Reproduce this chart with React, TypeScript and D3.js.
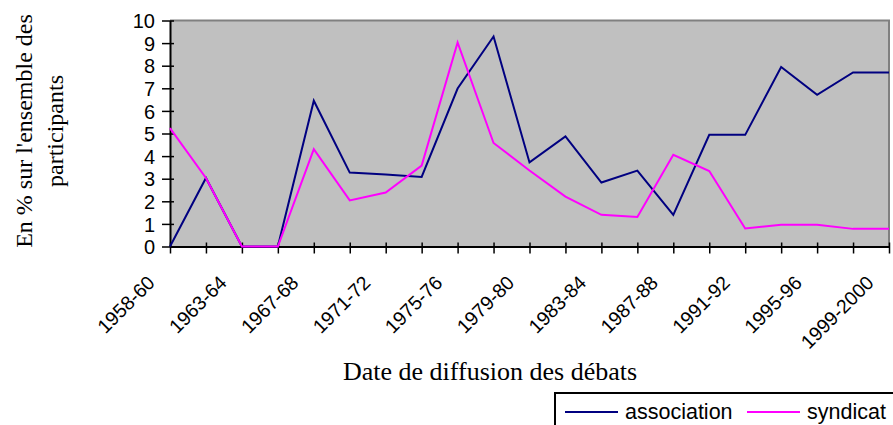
import React, { useEffect, useRef } from 'react';
import * as d3 from 'd3';

const periods = [
    '1958-60', '1961-62', '1963-64', '1965-66', '1967-68', '1969-70', '1971-72',
    '1973-74', '1975-76', '1977-78', '1979-80', '1981-82', '1983-84', '1985-86',
    '1987-88', '1989-90', '1991-92', '1993-94', '1995-96', '1997-98', '1999-2000'
];

// only every other period is labelled on the axis
const shownLabels = periods.filter((_, i) => i % 2 === 0);

const association = [
    0, 3.03, 0, 0, 6.45, 3.27, 3.19, 3.08, 6.99, 9.29, 3.72,
    4.87, 2.83, 3.36, 1.4, 4.94, 4.94, 7.94, 6.71, 7.7, 7.7
];

const syndicat = [
    5.24, 3.03, 0, 0, 4.31, 2.04, 2.39, 3.58, 9.03, 4.58, 3.36,
    2.21, 1.4, 1.31, 4.06, 3.34, 0.8, 0.96, 0.96, 0.78, 0.78
];

const yTicks = [0, 1, 2, 3, 4, 5, 6, 7, 8, 9, 10];

const seriesNames = ['association', 'syndicat'];
const seriesColors = ['#000080', '#FF00FF'];

const ParticipationChart: React.FC = () => {
    const chartRef = useRef<SVGSVGElement>(null);

    useEffect(() => {
        if (!chartRef.current) return;

        d3.select(chartRef.current).selectAll('*').remove();

        const width = 893;
        const height = 425;
        const plot = { left: 170, right: 889, top: 20.5, bottom: 246.5 };

        const svg = d3.select(chartRef.current)
            .attr('width', width)
            .attr('height', height)
            .attr('viewBox', `0 0 ${width} ${height}`);

        const xScale = d3.scalePoint<string>()
            .domain(periods)
            .range([plot.left, plot.right]);

        const yScale = d3.scaleLinear()
            .domain([0, 10])
            .range([plot.bottom, plot.top]);

        // Plot background
        svg.append('rect')
            .attr('x', plot.left)
            .attr('y', plot.top)
            .attr('width', plot.right - plot.left)
            .attr('height', plot.bottom - plot.top)
            .attr('fill', '#C0C0C0');

        // Gray border on top and right
        svg.append('path')
            .attr('d', `M${plot.left},${plot.top}H${plot.right}V${plot.bottom}`)
            .attr('fill', 'none')
            .attr('stroke', '#808080')
            .attr('stroke-width', 2);

        // Y axis
        const yAxis = svg.append('g')
            .attr('transform', `translate(${plot.left},0)`)
            .call(d3.axisLeft(yScale).tickValues(yTicks).tickSizeInner(8).tickSizeOuter(0).tickPadding(7));
        yAxis.select('.domain').attr('stroke', '#000').attr('stroke-width', 2);
        yAxis.selectAll('.tick line')
            .attr('x2', -8)
            .attr('x1', 4)
            .attr('stroke', '#000')
            .attr('stroke-width', 1.5);
        yAxis.selectAll('.tick text')
            .attr('font-family', 'Liberation Sans, Arial, sans-serif')
            .attr('font-size', '20px')
            .attr('fill', '#000')
            .attr('dy', '0.36em');

        // X axis
        const xAxis = svg.append('g')
            .attr('transform', `translate(0,${plot.bottom})`)
            .call(d3.axisBottom(xScale).tickSizeInner(7).tickSizeOuter(0).tickFormat(() => ''));
        xAxis.select('.domain').attr('stroke', '#000').attr('stroke-width', 2);
        xAxis.selectAll('.tick line')
            .attr('y1', -4)
            .attr('y2', 7)
            .attr('stroke', '#000')
            .attr('stroke-width', 1.5);

        // Rotated period labels
        svg.append('g')
            .selectAll('text')
            .data(shownLabels)
            .enter()
            .append('text')
            .attr('transform', d => `translate(${(xScale(d) as number) - 14},284) rotate(-45)`)
            .attr('text-anchor', 'end')
            .attr('font-family', 'Liberation Sans, Arial, sans-serif')
            .attr('font-size', '19.5px')
            .attr('fill', '#000')
            .text(d => d);

        // Lines
        const line = d3.line<number>()
            .x((_, i) => xScale(periods[i]) as number)
            .y(d => yScale(d));

        [association, syndicat].forEach((values, k) => {
            svg.append('path')
                .datum(values)
                .attr('d', line)
                .attr('fill', 'none')
                .attr('stroke', seriesColors[k])
                .attr('stroke-width', 2)
                .attr('stroke-linejoin', 'miter');
        });

        // Y-axis title (two lines)
        const yTitle = svg.append('text')
            .attr('transform', 'translate(0,131) rotate(-90)')
            .attr('text-anchor', 'middle')
            .attr('font-family', 'Liberation Serif, Times New Roman, serif')
            .attr('font-size', '24px')
            .attr('fill', '#000');
        yTitle.append('tspan').attr('x', 0).attr('y', 32).text("En % sur l'ensemble des");
        yTitle.append('tspan').attr('x', 0).attr('y', 63).text('participants');

        // X-axis title
        svg.append('text')
            .attr('x', 343)
            .attr('y', 380)
            .attr('font-family', 'Liberation Serif, Times New Roman, serif')
            .attr('font-size', '26px')
            .attr('fill', '#000')
            .text('Date de diffusion des débats');

        // Legend (runs off the right edge)
        const legend = svg.append('g');
        legend.append('rect')
            .attr('x', 555)
            .attr('y', 393)
            .attr('width', 420)
            .attr('height', 60)
            .attr('fill', '#fff')
            .attr('stroke', '#000')
            .attr('stroke-width', 2);

        const legendX = [565, 747];
        seriesNames.forEach((name, k) => {
            legend.append('line')
                .attr('x1', legendX[k])
                .attr('x2', legendX[k] + 53)
                .attr('y1', 412)
                .attr('y2', 412)
                .attr('stroke', seriesColors[k])
                .attr('stroke-width', 2);
            legend.append('text')
                .attr('x', legendX[k] + 60)
                .attr('y', 419)
                .attr('font-family', 'Liberation Sans, Arial, sans-serif')
                .attr('font-size', '21.5px')
                .attr('fill', '#000')
                .text(name);
        });
    }, []);

    return (
        <div style={{ position: 'absolute', left: 0, top: 0 }}>
            <svg ref={chartRef} style={{ display: 'block' }}></svg>
        </div>
    );
};

export default function App() {
    return <ParticipationChart />;
}
